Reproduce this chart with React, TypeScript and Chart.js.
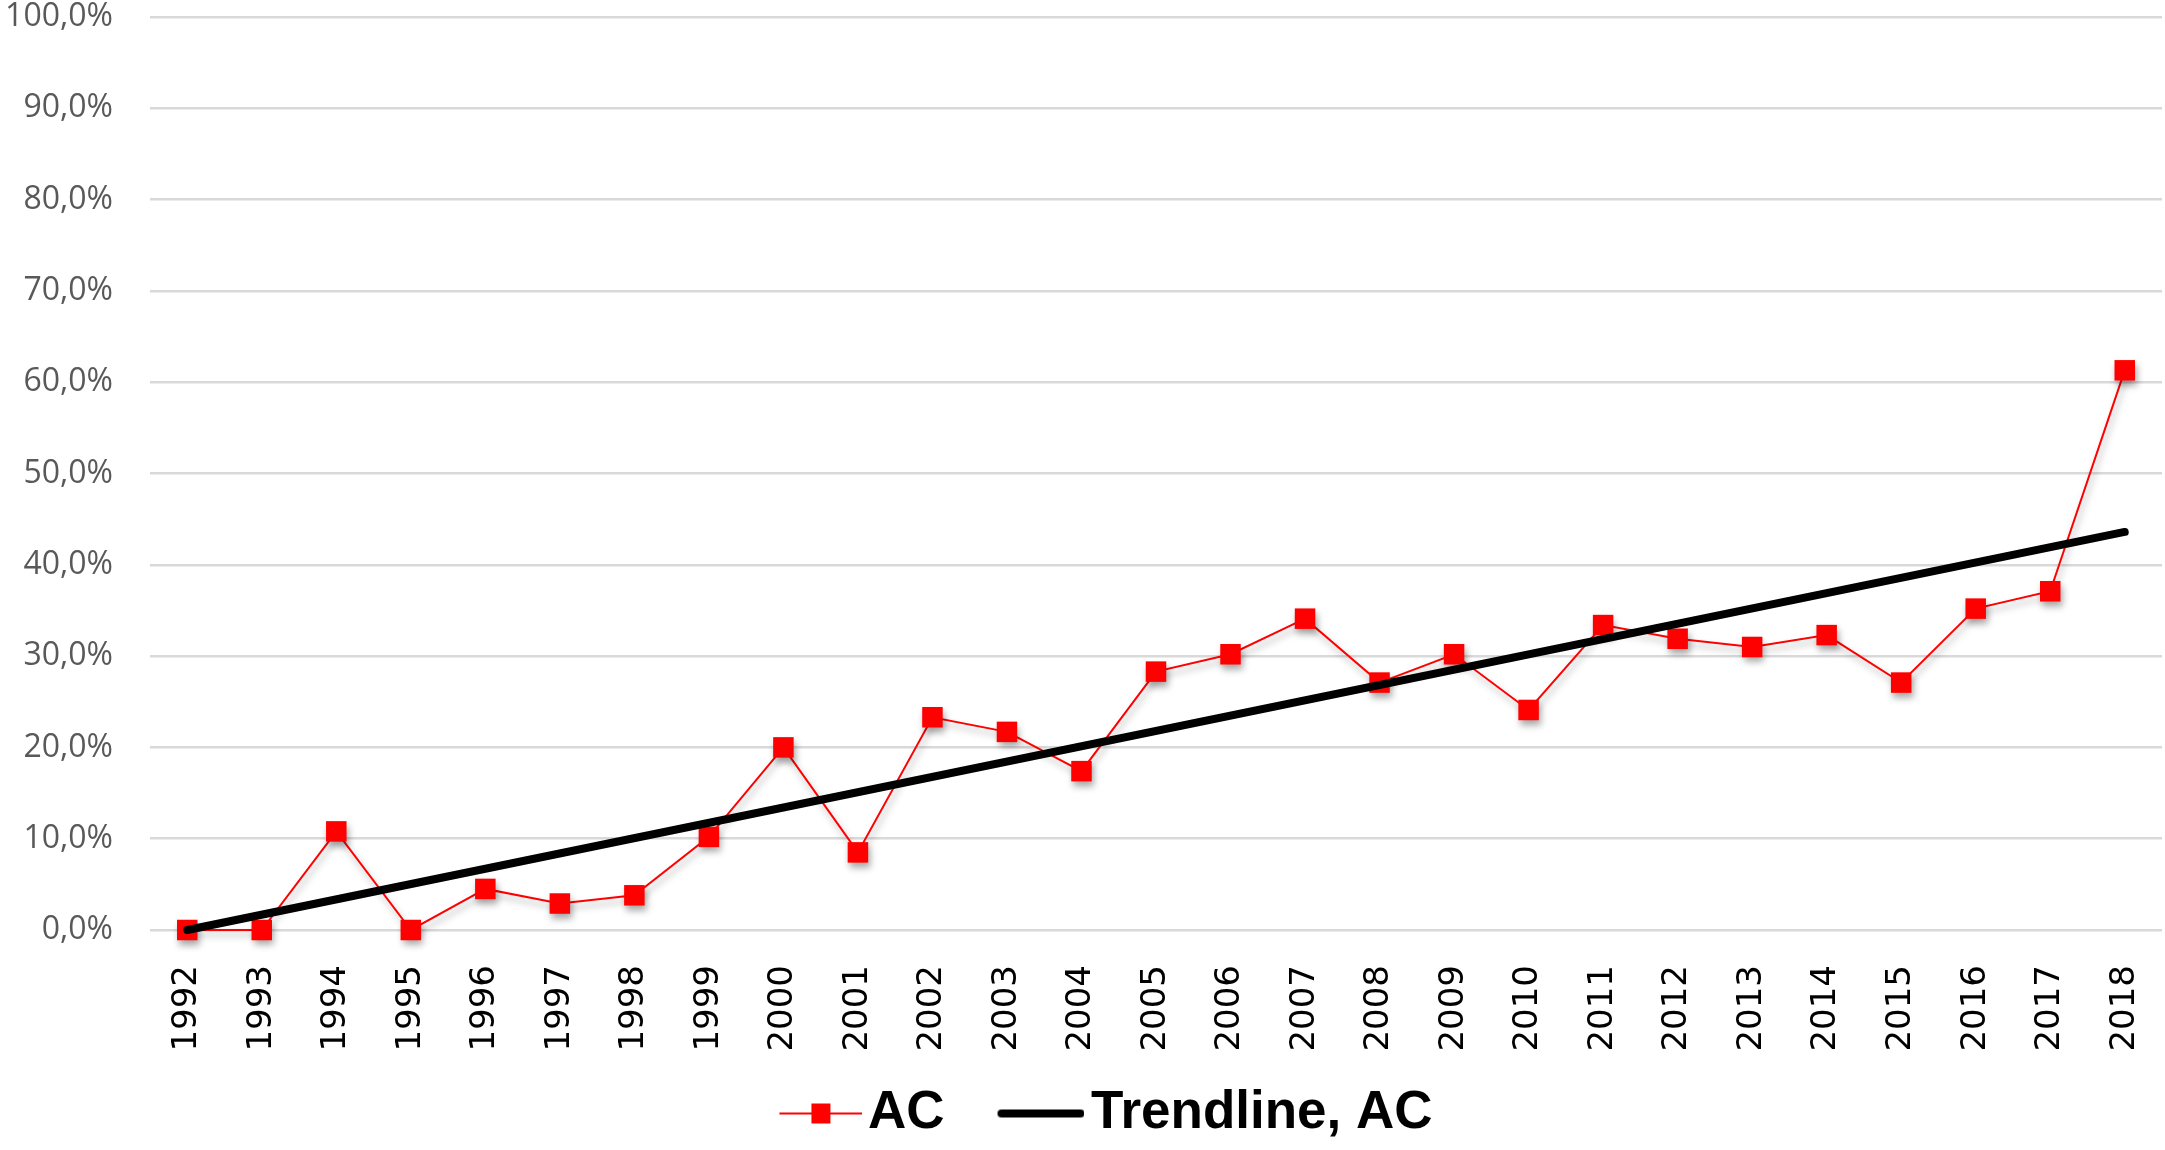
import { useRef, useEffect } from 'react'
import { Chart, registerables } from 'chart.js'
Chart.register(...registerables)

const YEARS = ['1992','1993','1994','1995','1996','1997','1998','1999','2000','2001','2002','2003','2004','2005','2006','2007','2008','2009','2010','2011','2012','2013','2014','2015','2016','2017','2018']
// AC share, in percent
const AC = [0, 0, 10.8, 0, 4.5, 2.9, 3.8, 10.2, 20.0, 8.5, 23.3, 21.7, 17.4, 28.3, 30.2, 34.1, 27.1, 30.2, 24.1, 33.4, 31.9, 31.0, 32.3, 27.1, 35.2, 37.1, 61.3]
// trendline end points (1992 and 2018)
const TREND_START = 0.0
const TREND_END = 43.6
const Y_TICKS_STEP = 10

const RED = '#ff0000'

function legendIcon(kind: 'ac' | 'trend'): HTMLCanvasElement {
  const c = document.createElement('canvas')
  const w = kind === 'ac' ? 152 : 150
  c.width = w; c.height = 30
  const g = c.getContext('2d')!
  if (kind === 'ac') {
    g.strokeStyle = RED; g.lineWidth = 2
    g.beginPath(); g.moveTo(69, 15); g.lineTo(152, 15); g.stroke()
    g.fillStyle = RED
    g.fillRect(110.5 - 9.5, 15 - 10, 19, 20)
  } else {
    g.strokeStyle = '#000'; g.lineWidth = 8; g.lineCap = 'round'
    g.beginPath(); g.moveTo(63 + 4, 15); g.lineTo(150 - 4, 15); g.stroke()
  }
  return c
}

const shadowPlugin = {
  id: 'acShadow',
  beforeDatasetDraw(chart: any, args: any) {
    if (args.index !== 0) return
    const ctx = chart.ctx
    ctx.save()
    ctx.shadowColor = 'rgba(0,0,0,0.35)'
    ctx.shadowBlur = 7
    ctx.shadowOffsetX = 2
    ctx.shadowOffsetY = 5
  },
  afterDatasetDraw(chart: any, args: any) {
    if (args.index !== 0) return
    chart.ctx.restore()
  },
}

export default function App() {
  const ref = useRef<HTMLCanvasElement>(null)
  const inst = useRef<Chart | null>(null)

  useEffect(() => {
    document.body.style.margin = '0'
    document.body.style.overflow = 'hidden'
    if (!ref.current) return
    inst.current?.destroy()
    const trend = YEARS.map((_, i) => (i === 0 ? TREND_START : i === YEARS.length - 1 ? TREND_END : null))
    const icons = [legendIcon('ac'), legendIcon('trend')]
    inst.current = new Chart(ref.current, {
      type: 'line',
      data: {
        labels: YEARS,
        datasets: [
          {
            label: 'AC', data: AC, order: 1, clip: false,
            borderColor: RED, borderWidth: 2, backgroundColor: RED,
            pointStyle: 'rect', pointRadius: 14.5, pointBackgroundColor: RED, pointBorderWidth: 0,
            tension: 0,
          },
          {
            label: 'Trendline, AC', data: trend, order: 0, spanGaps: true, clip: false,
            borderColor: '#000', borderWidth: 8, borderCapStyle: 'round',
            pointRadius: 0, tension: 0,
          },
        ],
      },
      options: {
        animation: false, responsive: false, devicePixelRatio: 1,
        layout: { autoPadding: false, padding: { top: 17, right: 3, bottom: 0, left: 2 } },
        plugins: {
          tooltip: { enabled: false },
          legend: {
            position: 'bottom',
            labels: {
              usePointStyle: true, pointStyleWidth: 110, padding: 10,
              color: '#000',
              font: { family: '"Liberation Sans", Arial, sans-serif', size: 53, weight: 'bold' },
              generateLabels: (chart: any) => chart.data.datasets.map((d: any, i: number) => ({
                text: d.label, pointStyle: icons[i], fillStyle: 'transparent', strokeStyle: 'transparent',
                lineWidth: 0, hidden: false, datasetIndex: i, fontColor: '#000',
              })),
            },
          },
        },
        scales: {
          x: {
            offset: true,
            grid: { display: false, drawTicks: false }, border: { display: false },
            ticks: {
              autoSkip: false, minRotation: 90, maxRotation: 90, padding: 35, color: '#000',
              font: { family: '"DejaVu Sans", Verdana, sans-serif', size: 34 },
            },
            afterFit: (s: any) => { s.height = 147; s.paddingLeft = 0; s.paddingRight = 0 },
          },
          y: {
            min: 0, max: 100,
            grid: { color: '#d9d9d9', lineWidth: 2.5, drawTicks: false }, border: { display: false },
            ticks: {
              stepSize: Y_TICKS_STEP, padding: 37, color: '#595959',
              font: { family: '"Open Sans", sans-serif', size: 32 },
              callback: (v: any) => Number(v).toFixed(1).replace('.', ',') + '%',
            },
            afterFit: (s: any) => { s.width = 148; s.paddingTop = 0; s.paddingBottom = 0 },
          },
        },
      },
      plugins: [shadowPlugin],
    })
    return () => inst.current?.destroy()
  }, [])

  return (
    <div style={{ width: 2165, height: 1150, background: '#fff' }}>
      <canvas ref={ref} width={2165} height={1150} style={{ display: 'block' }} />
    </div>
  )
}
